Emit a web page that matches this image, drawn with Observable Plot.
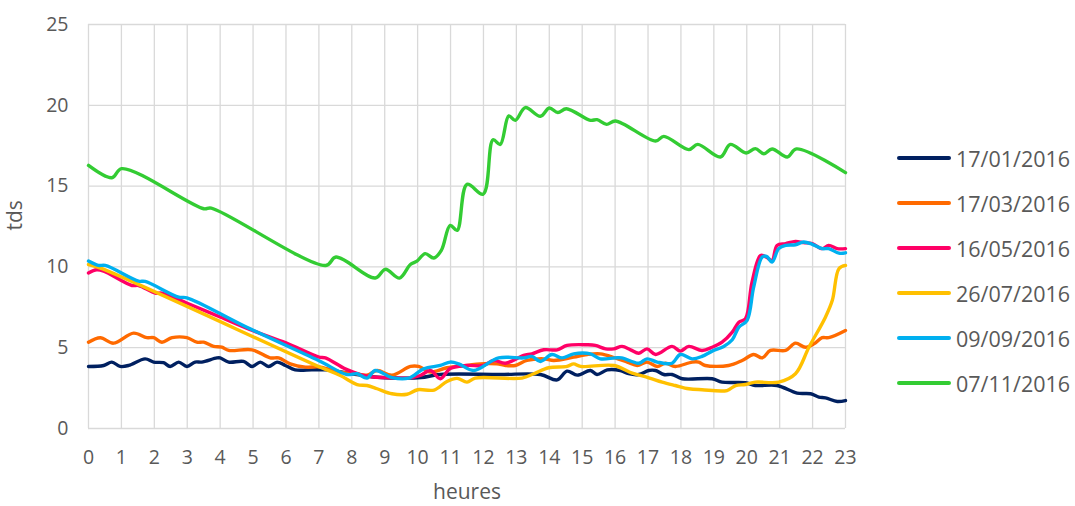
<!DOCTYPE html>
<html>
<head>
<meta charset="utf-8">
<script src="https://cdn.jsdelivr.net/npm/d3@7"></script>
<script src="https://cdn.jsdelivr.net/npm/@observablehq/plot@0.6"></script>
<style>
  html, body { margin: 0; padding: 0; background: #fff; }
  #wrap { position: relative; width: 1075px; height: 506px; font-family: "Open Sans", sans-serif; }
  #legend { position: absolute; left: 897px; top: 0; }
  .item { position: absolute; left: 0; white-space: nowrap; display: flex; align-items: center; }
  .swatch { width: 54px; height: 4px; border-radius: 2px; margin-right: 5px; }
  .lab { font-size: 21.5px; color: #595959; }
</style>
</head>
<body>
<div id="wrap"><div id="chart"></div><div id="legend"></div></div>
<script>
// Series names and colours
const seriesNames = ["17/01/2016", "17/03/2016", "16/05/2016", "26/07/2016", "09/09/2016", "07/11/2016"];
const seriesColors = ["#002060", "#ff6a00", "#ff0066", "#ffc000", "#00b0f0", "#33cc33"];
const hourTicks = [0,1,2,3,4,5,6,7,8,9,10,11,12,13,14,15,16,17,18,19,20,21,22,23];
const yTicks = [0,5,10,15,20,25];

// [hour, tds] readings
const s17jan = [[0,3.84],[0.46,3.9],[0.71,4.11],[0.96,3.84],[1.22,3.9],[1.72,4.31],[1.98,4.11],[2.28,4.07],[2.48,3.84],[2.74,4.11],[2.99,3.84],[3.24,4.11],[3.44,4.11],[3.9,4.37],[4.0,4.37],[4.26,4.11],[4.71,4.15],[4.97,3.84],[5.22,4.11],[5.47,3.84],[5.73,4.11],[5.98,3.9],[6.28,3.63],[6.79,3.63],[7.2,3.63],[8.0,3.39],[8.6,3.2],[9.5,3.12],[10.1,3.15],[10.69,3.34],[12.5,3.34],[13.73,3.34],[14.24,3.01],[14.54,3.55],[14.85,3.3],[15.25,3.59],[15.45,3.34],[15.76,3.63],[16.16,3.59],[16.41,3.39],[16.72,3.34],[17.02,3.59],[17.23,3.59],[17.48,3.34],[17.73,3.34],[18.04,3.08],[18.95,3.08],[19.25,2.87],[19.96,2.83],[20.26,2.66],[20.92,2.66],[21.53,2.19],[21.94,2.15],[22.19,1.94],[22.39,1.9],[22.75,1.67],[23,1.73]];
const s17mar = [[0,5.34],[0.36,5.62],[0.76,5.28],[1.37,5.9],[1.77,5.62],[1.98,5.62],[2.23,5.34],[2.54,5.62],[2.99,5.62],[3.29,5.34],[3.5,5.34],[3.8,5.08],[4.05,5.03],[4.26,4.83],[4.97,4.87],[5.52,4.37],[5.78,4.37],[6.13,4.0],[6.59,3.8],[7.04,3.8],[7.65,3.49],[8.1,3.4],[8.46,3.3],[8.77,3.59],[9.22,3.3],[9.78,3.84],[10.03,3.84],[10.39,3.49],[10.89,3.76],[11.5,3.9],[11.9,4.0],[12.41,4.0],[12.67,3.9],[12.97,3.9],[13.32,4.21],[13.83,4.31],[14.14,4.21],[14.74,4.42],[15.15,4.58],[15.55,4.62],[16.0,4.37],[16.37,4.11],[16.67,3.9],[16.97,4.11],[17.28,3.84],[17.53,4.04],[17.83,3.84],[18.34,4.11],[18.54,4.11],[18.74,3.9],[19.45,3.9],[19.86,4.21],[20.21,4.58],[20.47,4.37],[20.72,4.83],[21.18,4.83],[21.48,5.28],[21.78,5.03],[22.04,5.24],[22.29,5.62],[22.49,5.62],[23,6.07]];
const s16may = [[0,9.62],[0.25,9.82],[0.46,9.74],[1.32,8.85],[1.52,8.85],[2.03,8.38],[2.23,8.38],[3.0,7.75],[4.0,6.9],[5.0,6.05],[6.0,5.3],[7.0,4.42],[7.2,4.37],[7.8,3.69],[8.26,3.34],[8.6,3.2],[9.0,3.15],[9.7,3.12],[10.08,3.28],[10.39,3.59],[10.69,3.08],[10.99,3.72],[11.5,3.9],[12.0,3.9],[12.31,4.21],[12.67,4.04],[13.22,4.52],[13.47,4.62],[13.83,4.87],[14.24,4.87],[14.54,5.14],[15.15,5.18],[15.4,5.14],[15.71,4.93],[15.96,4.93],[16.21,5.08],[16.47,4.87],[16.72,4.66],[16.97,4.93],[17.23,4.58],[17.73,5.08],[17.98,4.79],[18.24,5.08],[18.64,4.83],[18.95,5.03],[19.25,5.34],[19.56,5.96],[19.76,6.58],[19.96,6.79],[20.16,9.06],[20.42,10.71],[20.6,10.6],[20.77,10.4],[20.92,11.33],[21.18,11.44],[21.48,11.58],[21.73,11.5],[21.99,11.44],[22.29,11.13],[22.49,11.33],[22.75,11.13],[23,11.13]];
const s26jul = [[0,10.15],[0.41,9.89],[7.04,3.79],[7.65,3.28],[8.16,2.72],[8.46,2.66],[8.77,2.46],[9.22,2.15],[9.68,2.12],[10.0,2.4],[10.5,2.38],[10.89,2.91],[11.2,3.1],[11.5,2.87],[11.75,3.12],[13.17,3.12],[13.53,3.39],[13.98,3.76],[14.54,3.84],[14.74,4.0],[14.95,3.84],[15.96,3.9],[16.52,3.43],[17.02,3.14],[17.43,2.87],[17.83,2.66],[18.24,2.46],[18.64,2.4],[19.4,2.35],[19.66,2.66],[19.96,2.72],[20.26,2.87],[20.97,2.87],[21.48,3.39],[21.89,5.03],[22.39,6.89],[22.6,7.93],[22.8,9.89],[23,10.09]];
const s09sep = [[0,10.36],[0.3,10.09],[0.51,10.09],[1.52,9.12],[1.72,9.1],[2.74,8.13],[2.99,8.09],[4.81,6.27],[6.99,4.21],[7.85,3.34],[8.16,3.39],[8.46,3.12],[8.71,3.59],[9.22,3.15],[9.73,3.12],[10.18,3.69],[10.69,3.9],[10.99,4.11],[11.25,4.0],[11.7,3.59],[12.46,4.37],[13.22,4.37],[13.47,4.46],[13.73,4.15],[14.08,4.58],[14.39,4.37],[14.74,4.62],[15.25,4.62],[15.55,4.31],[16.0,4.37],[16.2,4.37],[16.72,4.04],[16.97,4.31],[17.28,4.11],[17.73,4.04],[17.98,4.58],[18.34,4.31],[18.64,4.46],[18.95,4.79],[19.3,5.08],[19.56,5.49],[19.76,6.27],[20.01,6.69],[20.21,8.75],[20.47,10.61],[20.6,10.65],[20.77,10.3],[20.97,11.13],[21.18,11.33],[21.48,11.37],[21.73,11.54],[21.99,11.4],[22.29,11.13],[22.49,11.13],[22.8,10.85],[23,10.87]];
const s07nov = [[0,16.28],[0.71,15.52],[1.01,16.08],[3.5,13.6],[3.73,13.64],[7.21,10.09],[7.52,10.61],[8.71,9.31],[9.02,9.85],[9.45,9.31],[9.78,10.15],[9.98,10.36],[10.23,10.82],[10.49,10.55],[10.72,11.02],[10.99,12.57],[11.2,12.26],[11.5,15.11],[11.99,14.5],[12.29,17.87],[12.51,17.58],[12.77,19.34],[12.97,19.07],[13.27,19.86],[13.73,19.32],[14.0,19.83],[14.26,19.55],[14.52,19.79],[15.25,19.07],[15.45,19.11],[15.74,18.82],[16.01,19.03],[17.23,17.79],[17.48,18.08],[18.24,17.26],[18.51,17.58],[19.2,16.8],[19.5,17.58],[19.98,17.05],[20.26,17.32],[20.52,17.0],[20.77,17.3],[21.23,16.8],[21.51,17.3],[23,15.83]];

const allSeries = [s17jan, s17mar, s16may, s26jul, s09sep, s07nov];
const rows = allSeries.flatMap((s, i) => s.map(([h, v]) => ({h, v, series: seriesNames[i]})));

const gridStyle = {stroke: "#d9d9d9", strokeOpacity: 1, strokeWidth: 1.3};

const chart = Plot.plot({
  width: 1075,
  height: 506,
  marginLeft: 88,
  marginRight: 230,
  marginTop: 24,
  marginBottom: 78,
  style: {fontFamily: "Open Sans, sans-serif", fontSize: "19.5px", color: "#595959", background: "#fff", overflow: "visible"},
  x: {domain: [0, 23], label: null},
  y: {domain: [0, 25], label: null},
  color: {domain: seriesNames, range: seriesColors},
  marks: [
    Plot.gridX(hourTicks, gridStyle),
    Plot.gridY(yTicks, gridStyle),
    Plot.axisX(hourTicks, {tickSize: 0, tickPadding: 22, tickFormat: d => String(d), fill: "#595959", label: null}),
    Plot.axisY(yTicks, {tickSize: 0, tickPadding: 20, tickFormat: d => String(d), fill: "#595959", label: null}),
    Plot.line(rows, {x: "h", y: "v", z: "series", stroke: "series", strokeWidth: 3.4, curve: "catmull-rom", strokeLinejoin: "round", strokeLinecap: "round"}),
    Plot.text(["heures"], {frameAnchor: "bottom", dy: 64, fontSize: 21, fill: "#595959", lineAnchor: "middle"}),
    Plot.text(["tds"], {frameAnchor: "left", dx: -73, dy: 4, rotate: -90, fontSize: 21, fill: "#595959", lineAnchor: "middle"})
  ]
});
document.getElementById("chart").appendChild(chart);

const legend = document.getElementById("legend");
seriesNames.forEach((name, i) => {
  const item = document.createElement("div");
  item.className = "item";
  item.style.top = (158 + 45 * i - 15) + "px";
  item.style.height = "30px";
  const sw = document.createElement("div");
  sw.className = "swatch";
  sw.style.background = seriesColors[i];
  const lab = document.createElement("span");
  lab.className = "lab";
  lab.textContent = name;
  item.appendChild(sw);
  item.appendChild(lab);
  legend.appendChild(item);
});
</script>
</body>
</html>
